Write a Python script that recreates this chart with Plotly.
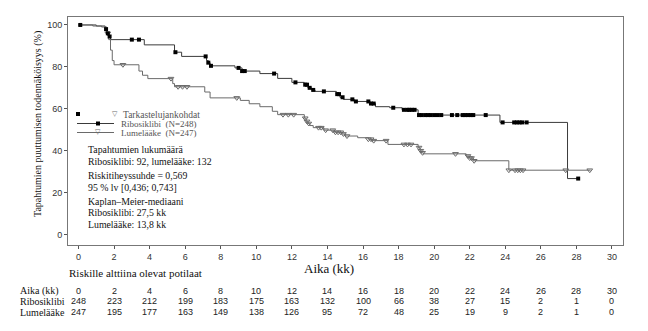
import plotly.graph_objects as go

# ---------------- data ----------------
ribo_t = [0, 1.0, 1.5, 1.6, 1.7, 1.8, 3.7, 5.4, 5.8, 7.2, 7.3, 7.4, 8.8, 9.2, 10.2, 11.2, 12.0,
          12.7, 12.9, 13.1, 13.3, 14.5, 14.7, 14.9, 15.5, 16.4, 16.7, 17.5, 18.2, 19.1, 23.7, 27.5]
ribo_s = [100, 99.5, 98, 96, 94.5, 93, 90.5, 87, 85, 83, 82, 80.5, 79.5, 78, 76.8, 74.5, 72.6,
          71.5, 70, 69, 68.3, 67, 65.5, 64.5, 63.5, 62.5, 61, 60.5, 59.5, 57, 53.5, 26.7]
ribo_end = 28.1
ribo_cens = [0.1, 1.55, 1.65, 1.75, 3.0, 3.4, 5.45, 7.15, 7.3, 7.45, 9.0, 9.2, 9.35, 11.0, 12.2,
             12.75, 12.85, 13.0, 13.2, 13.8, 14.55, 14.65, 14.85, 15.4, 15.6, 16.3, 16.45, 16.6,
             17.7, 18.3, 18.5, 18.6, 18.75, 18.9, 19.15, 19.3, 19.5, 19.65, 19.8, 20.0, 20.2, 20.4,
             21.0, 21.3, 21.6, 21.75, 21.9, 22.05, 22.2, 22.9, 23.85, 24.5, 24.65, 24.8, 24.95,
             25.2, 28.1]

pbo_t = [0, 0.8, 1.3, 1.6, 1.7, 1.8, 1.9, 2.0, 3.4, 3.6, 3.9, 5.3, 5.4, 7.1, 7.4, 9.1, 9.6,
         10.2, 10.9, 11.2, 12.7, 12.8, 12.9, 13.0, 13.2, 13.8, 14.4, 14.8, 15.0, 15.7, 16.3,
         16.5, 17.4, 19.1, 19.2, 19.3, 19.4, 21.8, 22.0, 22.2, 24.2]
pbo_s = [100, 99.5, 99, 96, 93, 88, 83, 81, 78, 76, 74.4, 72, 70.5, 68, 65.2, 64, 62.4,
         61, 58.8, 57.2, 55.5, 54, 53, 52, 51, 49.8, 48.8, 48, 47, 46.2, 45.5,
         44.8, 43, 41.5, 40, 39, 38.5, 37.5, 36.5, 35.2, 30.7]
pbo_end = 28.8
pbo_cens = [1.65, 2.5, 5.2, 5.6, 5.85, 6.1, 8.9, 11.5, 11.8, 12.1, 12.75, 12.85, 12.95, 13.5,
            13.65, 13.9, 14.3, 14.45, 14.6, 14.75, 14.9, 15.1, 16.3, 16.45, 16.6, 17.3, 18.3,
            18.5, 18.7, 19.15, 19.25, 19.35, 21.2, 21.9, 22.0, 22.1, 22.25, 24.2, 24.55, 24.7,
            24.85, 25.0, 27.4, 28.75]

risk_times = [0, 2, 4, 6, 8, 10, 12, 14, 16, 18, 20, 22, 24, 26, 28, 30]
ribo_risk = [248, 223, 212, 199, 183, 175, 163, 132, 100, 66, 38, 27, 15, 2, 1, 0]
pbo_risk = [247, 195, 177, 163, 149, 138, 126, 95, 72, 48, 25, 19, 9, 2, 1, 0]

stats_lines = [
    ("Tapahtumien lukumäärä", 150),
    ("Ribosiklibi: 92, lumelääke: 132", 161.5),
    ("Riskitiheyssuhde = 0,569", 175.5),
    ("95 % lv [0,436; 0,743]", 187),
    ("Kaplan–Meier-mediaani", 201),
    ("Ribosiklibi: 27,5 kk", 212.5),
    ("Lumelääke: 13,8 kk", 224),
]

# ---------------- helpers ----------------
W, H = 648, 331
L, R, T, B = 68, 623, 17, 245
PW, PH = R - L, B - T


def pxx(px):
    return (px - L) / PW


def pxy(py):
    return (B - py) / PH


def step_at(ts, ss, c):
    v = ss[0]
    for t, s in zip(ts, ss):
        if t <= c:
            v = s
    return v


SERIF = "Liberation Serif"
SANS = "Liberation Sans"
LC_R = "#3a3a3a"
LC_P = "#6a6a6a"

fig = go.Figure()

# KM curves
fig.add_trace(go.Scatter(x=ribo_t + [ribo_end], y=ribo_s + [ribo_s[-1]], mode="lines",
                         line=dict(color=LC_R, width=1, shape="hv"), showlegend=False))
fig.add_trace(go.Scatter(x=pbo_t + [pbo_end], y=pbo_s + [pbo_s[-1]], mode="lines",
                         line=dict(color=LC_P, width=1, shape="hv"), showlegend=False))
# censor marks
fig.add_trace(go.Scatter(x=pbo_cens, y=[step_at(pbo_t, pbo_s, c) for c in pbo_cens], mode="markers",
                         marker=dict(symbol="triangle-down-open", size=5, color=LC_P,
                                     line=dict(width=1, color=LC_P)), showlegend=False))
fig.add_trace(go.Scatter(x=ribo_cens, y=[step_at(ribo_t, ribo_s, c) for c in ribo_cens], mode="markers",
                         marker=dict(symbol="square", size=4, color="#000000"), showlegend=False))

ann = []
shapes = []

# legend block
shapes.append(dict(type="rect", xref="paper", yref="paper", x0=pxx(76), x1=pxx(80),
                   y0=pxy(116), y1=pxy(112), fillcolor="#000", line=dict(width=0)))
ann.append(dict(text="▽", x=pxx(115), y=pxy(114), xref="paper", yref="paper", showarrow=False,
                xanchor="center", yanchor="middle", font=dict(family="DejaVu Sans", size=7, color=LC_P)))
ann.append(dict(text="Tarkastelujankohdat", x=pxx(121), y=pxy(114.5), xref="paper", yref="paper",
                showarrow=False, xanchor="left", yanchor="middle", font=dict(family=SERIF, size=9.5, color="#555")))
for yy, name, kind in [(123.5, "Ribosiklibi  (N=248)", "sq"), (132.5, "Lumelääke  (N=247)", "tri")]:
    shapes.append(dict(type="line", xref="paper", yref="paper", x0=pxx(77), x1=pxx(114),
                       y0=pxy(yy), y1=pxy(yy), line=dict(color=LC_R if kind == "sq" else LC_P, width=1)))
    if kind == "sq":
        shapes.append(dict(type="rect", xref="paper", yref="paper", x0=pxx(96), x1=pxx(100),
                           y0=pxy(yy + 2), y1=pxy(yy - 2), fillcolor="#000", line=dict(width=0)))
    else:
        ann.append(dict(text="▽", x=pxx(98), y=pxy(yy - 1), xref="paper", yref="paper", showarrow=False,
                        xanchor="center", yanchor="middle",
                        font=dict(family="DejaVu Sans", size=7, color=LC_P)))
    ann.append(dict(text=name, x=pxx(119), y=pxy(yy + 0.5), xref="paper", yref="paper", showarrow=False,
                    xanchor="left", yanchor="middle", font=dict(family=SERIF, size=9, color="#555")))

# stats text
for txt, yy in stats_lines:
    ann.append(dict(text=txt, x=pxx(86), y=pxy(yy), xref="paper", yref="paper", showarrow=False,
                    xanchor="left", yanchor="middle", font=dict(family=SERIF, size=9.8, color="#111")))

# axis titles
ann.append(dict(text="Tapahtumien puuttumisen todennäköisyys (%)", x=pxx(38), y=pxy(124),
                xref="paper", yref="paper", showarrow=False, textangle=-90,
                xanchor="center", yanchor="middle", font=dict(family=SERIF, size=10, color="#111")))
ann.append(dict(text="Aika (kk)", x=pxx(329), y=pxy(268), xref="paper", yref="paper", showarrow=False,
                xanchor="center", yanchor="middle", font=dict(family=SERIF, size=13, color="#111")))
ann.append(dict(text="Riskille alttiina olevat potilaat", x=pxx(67), y=pxy(273), xref="paper", yref="paper",
                showarrow=False, xanchor="left", yanchor="middle", font=dict(family=SERIF, size=11, color="#111")))

# risk table
rows = [("Aika (kk)", 290.5, risk_times), ("Ribosiklibi", 301, ribo_risk), ("Lumelääke", 312, pbo_risk)]
for label, yy, vals in rows:
    ann.append(dict(text=label, x=pxx(18), y=pxy(yy), xref="paper", yref="paper", showarrow=False,
                    xanchor="left", yanchor="middle", font=dict(family=SERIF, size=10, color="#111")))
    for t, v in zip(risk_times, vals):
        ann.append(dict(text=str(v), x=t, y=pxy(yy), xref="x", yref="paper", showarrow=False,
                        xanchor="center", yanchor="middle", font=dict(family=SANS, size=9, color="#222")))

fig.update_layout(
    width=W, height=H,
    margin=dict(l=L, r=W - R, t=T, b=H - B, pad=0),
    paper_bgcolor="white", plot_bgcolor="white",
    font=dict(family=SERIF),
    annotations=ann, shapes=shapes, showlegend=False,
    xaxis=dict(range=[-0.59, 30.62], tickvals=risk_times, ticks="outside", ticklen=3,
               tickcolor="#555", showline=True, mirror=True, linecolor="#777", linewidth=1,
               showgrid=False, zeroline=False, tickfont=dict(family=SANS, size=9, color="#333")),
    yaxis=dict(range=[-5, 103.8], tickvals=[0, 20, 40, 60, 80, 100], ticks="outside", ticklen=3,
               tickcolor="#555", showline=True, mirror=True, linecolor="#777", linewidth=1,
               showgrid=False, zeroline=False, tickfont=dict(family=SANS, size=9, color="#333")),
)

fig.write_html("out.html")
